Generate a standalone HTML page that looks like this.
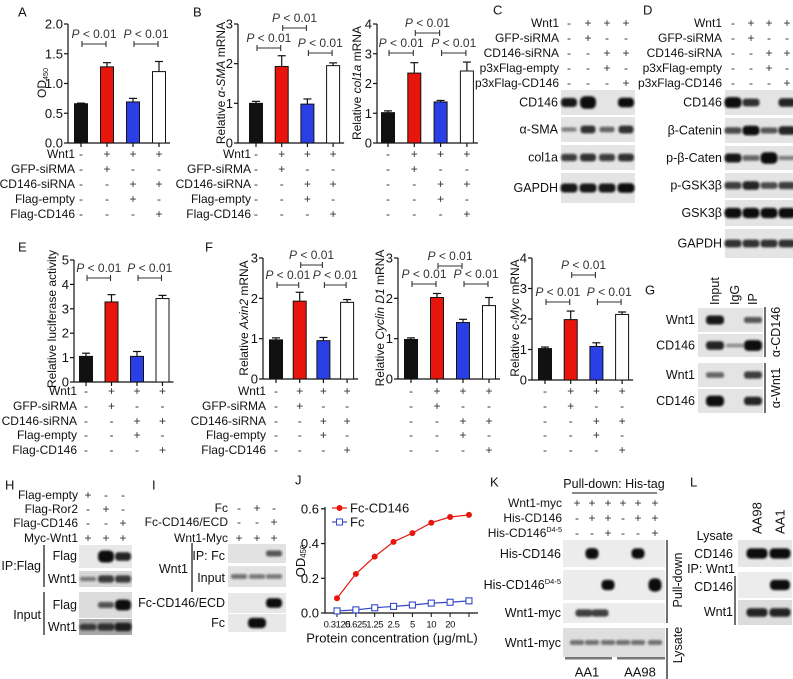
<!DOCTYPE html>
<html><head><meta charset="utf-8"><style>
html,body{margin:0;padding:0;background:#fff;}
svg{display:block;font-family:"Liberation Sans",Arial,sans-serif;}
</style></head><body>
<svg id="fig" width="793" height="679" viewBox="0 0 793 679" xmlns="http://www.w3.org/2000/svg">
<defs><filter id="bl" x="-50%" y="-100%" width="200%" height="300%"><feGaussianBlur stdDeviation="1.1"/></filter></defs>
<rect x="0" y="0" width="793" height="679" fill="#fff"/>
</svg>
<script>
// ---------- DATA ----------
const condLabels = ["Wnt1","GFP-siRMA","CD146-siRNA","Flag-empty","Flag-CD146"];
const condSigns = [["-","+","+","+"],["-","+","-","-"],["-","-","+","+"],["-","-","+","-"],["-","-","-","+"]];
const blotHeadLabels = ["Wnt1","GFP-siRMA","CD146-siRNA","p3xFlag-empty","p3xFlag-CD146"];

const aValues = [0.66, 1.28, 0.69, 1.20];
const aErrors = [0.01, 0.07, 0.06, 0.17];
const aTicks = [0, 0.5, 1, 1.5, 2];
const aTickLabels = ["0.0","0.5","1.0","1.5","2.0"];

const b1Values = [1.0, 1.93, 0.98, 1.95];
const b1Errors = [0.05, 0.27, 0.13, 0.07];
const b1Ticks = [0,1,2,3];
const b2Values = [1.02, 2.35, 1.38, 2.42];
const b2Errors = [0.06, 0.35, 0.05, 0.3];
const b2Ticks = [0,1,2,3,4];

const eValues = [1.05, 3.28, 1.05, 3.42];
const eErrors = [0.13, 0.3, 0.2, 0.13];
const eTicks = [0,1,2,3,4,5];

const f1Values = [0.97, 1.93, 0.95, 1.9];
const f1Errors = [0.05, 0.22, 0.08, 0.07];
const f2Values = [0.98, 2.02, 1.4, 1.82];
const f2Errors = [0.04, 0.1, 0.08, 0.2];
const f3Values = [1.03, 1.98, 1.1, 2.15];
const f3Errors = [0.05, 0.28, 0.12, 0.08];
const f12Ticks = [0,1,2,3];
const f3Ticks = [0,1,2,3,4];

const jConc = ["0.3125","0.625","1.25","2.5","5","10","20","40"];
const jFcCD146 = [0.085, 0.225, 0.325, 0.41, 0.46, 0.52, 0.553, 0.565];
const jFc = [0.012, 0.018, 0.03, 0.038, 0.046, 0.057, 0.062, 0.07];
const jTicks = [0, 0.2, 0.4, 0.6];
const jTickLabels = ["0.0","0.2","0.4","0.6"];

const barColors = ["#111","#e8150d","#2a40e6","#fff"];

// ---------- HELPERS ----------
const NS = "http://www.w3.org/2000/svg";
const svg = document.getElementById("fig");
function mk(tag, attrs, parent){
  const e = document.createElementNS(NS, tag);
  for (const k in attrs) e.setAttribute(k, attrs[k]);
  (parent || svg).appendChild(e);
  return e;
}
function T(parent, x, y, s, o){
  o = o || {};
  const e = mk("text", {x:x, y:y, "font-size":o.fs||12, "text-anchor":o.a||"start", "dominant-baseline":"central", fill:o.f||"#111"}, parent);
  if (o.rot) e.setAttribute("transform", "rotate(" + o.rot + " " + x + " " + y + ")");
  if (o.ls) e.setAttribute("letter-spacing", o.ls);
  if (Array.isArray(s)) {
    s.forEach(p => {
      const t = mk("tspan", {}, e);
      if (p[1] === "i") t.setAttribute("font-style","italic");
      if (p[1] === "sub") { t.setAttribute("font-size", (o.fs||12)*0.6); t.setAttribute("dy","3"); }
      if (p[1] === "sup") { t.setAttribute("font-size", (o.fs||12)*0.6); t.setAttribute("dy","-4"); }
      t.textContent = p[0];
    });
  } else e.textContent = s;
  return e;
}
function L(parent, x1, y1, x2, y2, w, c){
  return mk("line", {x1:x1, y1:y1, x2:x2, y2:y2, stroke:c||"#111", "stroke-width":w||1}, parent);
}
function G(){ return mk("g", {}); }

// ---------- PANEL LETTERS ----------
[["A",18,12],["B",193,12],["C",493,10],["D",643,10],["E",18,247],["F",205,247],["G",645,290],["H",5,485],["I",152,485],["J",295,480],["K",490,482],["L",690,482]].forEach(p=>{
  const t = T(svg, p[1], p[2], p[0], {fs:13});
  
  
});

// ---------- BAR CHART ----------
function barChart(c){
  const g = G();
  
  
  const ys = v => c.y0 - (v / c.max) * (c.y0 - c.yTop);
  const xs = i => c.x0 + i * c.step;
  const xEnd = xs(c.vals.length - 1) + 11;
  const ya = L(g, c.ax, c.y0, c.ax, c.yTop, 1.2);
  
  
  const xa = L(g, c.ax, c.y0, xEnd, c.y0, 1.2);
  
  
  c.ticks.forEach((t, i) => {
    L(g, c.ax - 4, ys(t), c.ax, ys(t), 1.2);
    const tl = T(g, c.ax - 5, ys(t), c.tickLabels ? c.tickLabels[i] : String(t), {fs:13, a:"end"});
    
    
  });
  c.vals.forEach((v, i) => {
    const x = xs(i);
    L(g, x, c.y0, x, c.y0 + 4, 1.2);
    const eb = L(g, x, ys(v), x, ys(v + c.errs[i]), 1.2);
    
    
    L(g, x - 4, ys(v + c.errs[i]), x + 4, ys(v + c.errs[i]), 1.2);
    const r = mk("rect", {x:x - 6.5, y:ys(v), width:13, height:c.y0 - ys(v), fill:barColors[i], stroke:"#111", "stroke-width":1}, g);
    
    
  });
  c.brackets.forEach(b => {
    const x1 = xs(b[0]) + 1, x2 = xs(b[1]) - 1, y = b[2];
    const bl = L(g, x1, y, x2, y, 1.1, "#333");
    
    
    L(g, x1, y - 3, x1, y + 3, 1.1, "#333");
    L(g, x2, y - 3, x2, y + 3, 1.1, "#333");
    const pt = T(g, (x1 + x2) / 2, y - 10, [["P","i"],[" < 0.01",""]], {fs:12, a:"middle", f:"#333"});
    
    
  });
  const yt = T(g, c.titleX, c.titleY, c.title, {fs:12, a:"middle", rot:-90});
  
  
  condSigns.forEach((row, r) => {
    if (c.showLabels) {
      const cl = T(g, c.labelEnd, c.rowY[r], condLabels[r], {fs:12, a:"end"});
      
      
    }
    row.forEach((s, i) => {
      const st = T(g, xs(i), c.rowY[r], s, {fs:12, a:"middle", f:"#333"});
      
      
    });
  });
}
const rowsTop = [154,169,184,199,214];
const rowsMid = [391,406,421,435,450];

barChart({name:"chart-a-od450", ax:68, y0:143, yTop:24, max:2, ticks:aTicks, tickLabels:aTickLabels, x0:81, step:26, vals:aValues, errs:aErrors,
  title:[["OD",""],["450","sub"]], titleX:42, titleY:83, brackets:[[0,1,44],[2,3,44]], showLabels:true, labelEnd:75, rowY:rowsTop});
barChart({name:"chart-b-asma", ax:238, y0:143, yTop:24, max:3, ticks:b1Ticks, x0:256, step:25.7, vals:b1Values, errs:b1Errors,
  title:[["Relative ",""],["α-SMA","i"],[" mRNA",""]], titleX:221, titleY:83, brackets:[[0,1,48],[1,2,28],[2,3,53]], showLabels:true, labelEnd:251, rowY:rowsTop});
barChart({name:"chart-b-col1a", ax:377, y0:143, yTop:24, max:4, ticks:b2Ticks, x0:388, step:26.3, vals:b2Values, errs:b2Errors,
  title:[["Relative ",""],["col1a","i"],[" mRNA",""]], titleX:357, titleY:83, brackets:[[0,1,53],[1,2,33],[2,3,53]], showLabels:false, rowY:rowsTop});
barChart({name:"chart-e-luciferase", ax:74, y0:382, yTop:260, max:5, ticks:eTicks, x0:86, step:25.5, vals:eValues, errs:eErrors,
  title:"Relative luciferase activity", titleX:52, titleY:319, brackets:[[0,1,278],[2,3,278]], showLabels:true, labelEnd:77, rowY:rowsMid});
barChart({name:"chart-f-axin2", ax:263, y0:379, yTop:258, max:3, ticks:f12Ticks, x0:276, step:23.7, vals:f1Values, errs:f1Errors,
  title:[["Relative ",""],["Axin2","i"],[" mRNA",""]], titleX:244, titleY:318, brackets:[[0,1,285],[1,2,265],[2,3,285]], showLabels:true, labelEnd:266, rowY:rowsMid});
barChart({name:"chart-f-cyclind1", ax:398, y0:379, yTop:258, max:3, ticks:f12Ticks, x0:411, step:26, vals:f2Values, errs:f2Errors,
  title:[["Relative ",""],["Cyclin D1","i"],[" mRNA",""]], titleX:380, titleY:318, brackets:[[0,1,284],[1,2,266],[2,3,284]], showLabels:false, rowY:rowsMid});
barChart({name:"chart-f-cmyc", ax:532, y0:380, yTop:258, max:4, ticks:f3Ticks, x0:545, step:25.7, vals:f3Values, errs:f3Errors,
  title:[["Relative ",""],["c-Myc","i"],[" mRNA",""]], titleX:515, titleY:318, brackets:[[0,1,302],[1,2,275],[2,3,302]], showLabels:false, rowY:rowsMid});

// ---------- BLOTS ----------
function blot(parent, name, x, y, w, h, lanes, ints, bw, bg){
  const g = mk("g", {}, parent);
  
  
  mk("rect", {x:x, y:y, width:w, height:h, fill:bg||"#e4e4e4"}, g);
  ints.forEach((v, i) => {
    if (v <= 0) return;
    const bh = Math.min(h - 4, 3 + 6 * v);
    const b = mk("rect", {x:lanes[i] - bw/2, y:y + h/2 - bh/2, width:bw, height:bh, rx:bh/2.5, fill:"#0d0d0d", opacity:Math.min(1, 0.35 + 0.6 * v), filter:"url(#bl)"}, g);
    
    
  });
  return g;
}
function header(parent, labels, signs, rowsY, labelEnd, lanes){
  labels.forEach((lb, r) => {
    const t = T(parent, labelEnd, rowsY[r], lb, {fs:12, a:"end"});
    
    
    signs[r].forEach((s, i) => {
      const st = T(parent, lanes[i], rowsY[r], s, {fs:12, a:"middle", f:"#333"});
      
      
    });
  });
}
function rowLabel(parent, x, y, s, a){
  const t = T(parent, x, y, s, {fs:12.5, a:a||"end"});
  
  
  return t;
}

// Panel C
const gC = G();


const lanesC = [569,588,607,626];
header(gC, blotHeadLabels, condSigns, [23,38,53,68,83], 559, lanesC);
[["CD146",90,25,[1,1.6,0,1.1],16],["α-SMA",117,25,[0.2,0.8,0.4,0.8],15],["col1a",145,25,[0.7,0.8,0.7,0.8],16],["GAPDH",173,30,[1,1,1,1.1],17]].forEach(r=>{
  blot(gC, "blot-c-" + r[0], 561, r[1], 74, r[2], lanesC, r[3], r[4]);
  rowLabel(gC, 558, r[1] + r[2]/2, r[0]);
});

// Panel D
const gD = G();


const lanesD = [733,751,769,787];
header(gD, blotHeadLabels, condSigns, [23,38,53,68,83], 722, lanesD);
[["CD146",90,25,[1.3,0.8,0,0.9]],["β-Catenin",118,25,[0.6,1.1,0.5,0.9]],["p-β-Caten",146,24,[1,0.4,1.4,0.2]],["p-GSK3β",173,25,[0.7,0.9,0.6,0.7]],["GSK3β",200,26,[1.2,1.2,1.2,1.2]],["GAPDH",229,29,[0.8,0.8,0.8,0.8]]].forEach(r=>{
  blot(gD, "blot-d-" + r[0], 725, r[1], 68, r[2], lanesD, r[3], 17);
  rowLabel(gD, 722, r[1] + r[2]/2, r[0]);
});

// Panel G
const gG = G();


const lanesG = [715,735,753];
["Input","IgG","IP"].forEach((s, i) => {
  const t = T(gG, lanesG[i], 305, s, {fs:12.5, rot:-90});
  
  
});
[["Wnt1",308,24,[1,0,0.5]],["CD146",334,23,[0.9,0.1,1.3]],["Wnt1",363,24,[0.4,0,0.7]],["CD146",389,24,[1.3,0,0.9]]].forEach(r=>{
  blot(gG, "blot-g-" + r[0], 698, r[1], 65, r[2], lanesG, r[3], 18);
  rowLabel(gG, 695, r[1] + r[2]/2, r[0]);
});
L(gG, 765, 307, 765, 357, 1.2); L(gG, 765, 363, 765, 413, 1.2);
[["α-CD146",332],["α-Wnt1",388]].forEach(s=>{
  const t = T(gG, 776, s[1], s[0], {fs:12.5, a:"middle", rot:-90});
  
  
});

// Panel H
const gH = G();


const lanesH = [88,106,123];
header(gH, ["Flag-empty","Flag-Ror2","Flag-CD146","Myc-Wnt1"], [["+","-","-"],["-","+","-"],["-","-","+"],["+","+","+"]], [495,509,523,538], 78, lanesH);
blot(gH, "blot-h-ip-flag", 79, 545, 53, 23, lanesH, [0,1.5,0.9], 16, "#e8e8e8");
blot(gH, "blot-h-ip-wnt1", 79, 571, 53, 16, lanesH, [0.2,0.7,0.7], 16, "#d8d8d8");
blot(gH, "blot-h-input-flag", 79, 592, 53, 26, lanesH, [0,0.5,1.3], 16, "#dcdcdc");
blot(gH, "blot-h-input-wnt1", 79, 619, 53, 16, lanesH, [0.6,0.7,0.9], 17, "#a8a8a8");
rowLabel(gH, 77, 556, "Flag"); rowLabel(gH, 77, 579, "Wnt1"); rowLabel(gH, 77, 605, "Flag"); rowLabel(gH, 77, 627, "Wnt1");
rowLabel(gH, 41, 566, "IP:Flag"); rowLabel(gH, 41, 615, "Input");
L(gH, 44, 545, 44, 587, 1.2); L(gH, 44, 592, 44, 635, 1.2);

// Panel I
const gI = G();


const lanesI = [239,257,274];
header(gI, ["Fc","Fc-CD146/ECD","Wnt1-Myc"], [["-","+","-"],["-","-","+"],["+","+","+"]], [508,522,538], 228, lanesI);
blot(gI, "blot-i-ip-fc", 228, 544, 58, 19, lanesI, [0,0,0.5], 16, "#e2e2e2");
blot(gI, "blot-i-input", 228, 566, 58, 21, lanesI, [0.3,0.25,0.25], 16, "#e2e2e2");
blot(gI, "blot-i-fc-cd146", 228, 593, 58, 20, lanesI, [0,0,1.1], 16, "#e8e8e8");
blot(gI, "blot-i-fc", 228, 614, 58, 18, lanesI, [0,1.2,0], 18, "#e8e8e8");
rowLabel(gI, 225, 556, "IP: Fc"); rowLabel(gI, 225, 578, "Input"); rowLabel(gI, 188, 569, "Wnt1");
rowLabel(gI, 225, 603, "Fc-CD146/ECD"); rowLabel(gI, 225, 623, "Fc");
L(gI, 192, 543, 192, 592, 1.2);

// Panel J line chart
const gJ = G();


const jY = v => 613 - v * 173.6;
const jX = i => 337 + i * 18.85;
const jya = L(gJ, 325, 613, 325, 507, 1.2);


const jxa = L(gJ, 325, 613, 478, 613, 1.2);


jTicks.forEach((t, i) => {
  L(gJ, 321, jY(t), 325, jY(t), 1.2);
  const tl = T(gJ, 319, jY(t), jTickLabels[i], {fs:13, a:"end"});
  
  
});
jConc.forEach((c, i) => {
  L(gJ, jX(i), 613, jX(i), 617, 1);
  if (i < jConc.length - 1) {
    const tl = T(gJ, jX(i), 625, c, {fs:9.5, a:"middle", ls:-0.4});
    
    
  }
});
const jl1 = mk("polyline", {points: jFcCD146.map((v, i) => jX(i) + "," + jY(v)).join(" "), fill:"none", stroke:"#e8150d", "stroke-width":1.2}, gJ);


jFcCD146.forEach((v, i) => {
  const p = mk("circle", {cx:jX(i), cy:jY(v), r:3, fill:"#e8150d"}, gJ);
  
  
});
const jl2 = mk("polyline", {points: jFc.map((v, i) => jX(i) + "," + jY(v)).join(" "), fill:"none", stroke:"#3548c8", "stroke-width":1.2}, gJ);


jFc.forEach((v, i) => {
  const p = mk("rect", {x:jX(i) - 3, y:jY(v) - 3, width:6, height:6, fill:"#fff", stroke:"#3548c8", "stroke-width":1.1}, gJ);
  
  
});
const lg1 = G();


L(lg1, 332, 508, 347, 508, 1.2, "#e8150d"); mk("circle", {cx:339.5, cy:508, r:3, fill:"#e8150d"}, lg1);
T(lg1, 350, 508, "Fc-CD146", {fs:13});
const lg2 = G();


L(lg2, 332, 522, 347, 522, 1.2, "#3548c8"); mk("rect", {x:336.5, y:519, width:6, height:6, fill:"#fff", stroke:"#3548c8"}, lg2);
T(lg2, 350, 522, "Fc", {fs:13});
const jyt = T(gJ, 300, 561, [["OD",""],["450","sub"]], {fs:13, a:"middle", rot:-90});


const jxt = T(gJ, 392, 638, "Protein concentration (μg/mL)", {fs:13, a:"middle"});



// Panel K
const gK = G();


const lanesK = [577,592,608,623,638,655];
const kt = T(gK, 614, 484, "Pull-down: His-tag", {fs:12.5, a:"middle"});


L(gK, 572, 493, 657, 493, 1);
[["Wnt1-myc",503,["+","+","+","+","+","+"]],["His-CD146",518,["-","+","+","-","+","+"]],["His-CD146",533,["-","-","+","-","-","+"]]].forEach((r, ri)=>{
  const t = T(gK, 562, r[1], ri === 2 ? [["His-CD146",""],["D4-5","sup"]] : r[0], {fs:12, a:"end"});
  
  
  r[2].forEach((s, i) => {
    const st = T(gK, lanesK[i], r[1], s, {fs:12, a:"middle", f:"#333"});
    
    
  });
});
blot(gK, "blot-k-his-cd146", 563, 540, 102, 27, lanesK, [0,1.3,0,0,1.2,0], 13, "#ececec");
blot(gK, "blot-k-his-cd146-d45", 563, 570, 102, 30, lanesK, [0,0,1.2,0,0,1.7], 13, "#ececec");
blot(gK, "blot-k-wnt1-myc", 563, 603, 102, 20, [584,600,0,0,0,0], [0.7,0.7,0,0,0,0], 17, "#ececec");
blot(gK, "blot-k-lysate-wnt1-myc", 563, 628, 102, 29, lanesK, [0.3,0.3,0.3,0.3,0.3,0.3], 14, "#dedede");
rowLabel(gK, 561, 554, "His-CD146");
const kd = T(gK, 561, 585, [["His-CD146",""],["D4-5","sup"]], {fs:12.5, a:"end"});


rowLabel(gK, 561, 613, "Wnt1-myc"); rowLabel(gK, 561, 643, "Wnt1-myc");
L(gK, 667, 540, 667, 623, 1.2); L(gK, 667, 628, 667, 679, 1.2);
[["Pull-down",580],["Lysate",645]].forEach(s=>{
  const t = T(gK, 678, s[1], s[0], {fs:12.5, a:"middle", rot:-90});
  
  
});
mk("rect", {x:565, y:657, width:47, height:2.5, fill:"#777"}, gK);
mk("rect", {x:617, y:657, width:48, height:2.5, fill:"#777"}, gK);
[["AA1",587],["AA98",640]].forEach(s=>{
  const t = T(gK, s[1], 672, s[0], {fs:13, a:"middle"});
  
  
});

// Panel L
const gL = G();


const lanesL = [757,780];
[["AA98",757],["AA1",780]].forEach(s=>{
  const t = T(gL, s[1], 534, s[0], {fs:13, rot:-90});
  
  
});
rowLabel(gL, 733, 536, "Lysate");
blot(gL, "blot-l-lysate-cd146", 738, 540, 54, 27, lanesL, [1.2,1.2], 21, "#e6e6e6");
blot(gL, "blot-l-ip-cd146", 738, 572, 54, 26, lanesL, [0,1.2], 20, "#ececec");
blot(gL, "blot-l-ip-wnt1", 738, 600, 54, 25, lanesL, [0.9,0.9], 21, "#dcdcdc");
rowLabel(gL, 733, 554, "CD146");
rowLabel(gL, 735, 569, "IP: Wnt1");
rowLabel(gL, 733, 587, "CD146"); rowLabel(gL, 733, 612, "Wnt1");
L(gL, 735, 576, 735, 625, 1.2);
</script>
</body></html>
